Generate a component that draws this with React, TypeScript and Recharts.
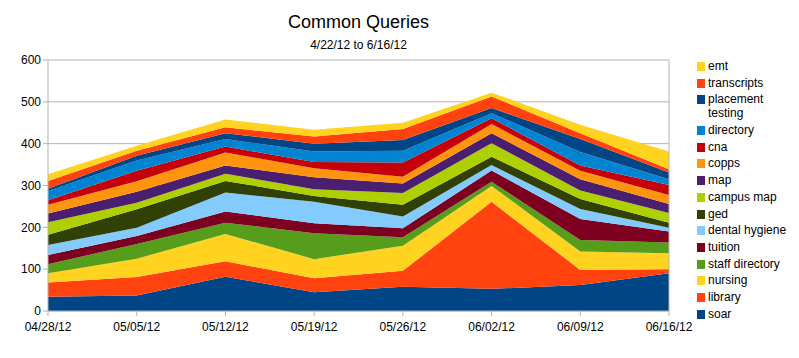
import { AreaChart, Area, XAxis, YAxis, CartesianGrid, ReferenceLine } from 'recharts';

const dates = ['04/28/12', '05/05/12', '05/12/12', '05/19/12', '05/26/12', '06/02/12', '06/09/12', '06/16/12'];

// bottom layer first
const soar = [34, 37, 82, 45, 58, 53, 62, 90];
const library = [34, 44, 37, 33, 38, 208, 36, 10];
const nursing = [22, 44, 65, 46, 60, 38, 44, 38];
const staffDirectory = [22, 35, 27, 62, 20, 10, 28, 26];
const tuition = [22, 19, 27, 24, 22, 27, 50, 26];
const dentalHygiene = [24, 20, 45, 51, 28, 13, 24, 9];
const ged = [24, 44, 28, 14, 28, 20, 24, 12];
const campusMap = [30, 16, 17, 16, 28, 32, 20, 23];
const map = [21, 26, 20, 29, 23, 24, 27, 22];
const copps = [21, 25, 31, 21, 16, 22, 20, 21];
const cna = [11, 25, 14, 15, 34, 14, 13, 24];
const directory = [22, 25, 18, 25, 28, 12, 32, 14];
const placementTesting = [5, 11, 14, 19, 26, 12, 31, 16];
const transcripts = [19, 12, 14, 17, 26, 28, 14, 8];
const emt = [16, 12, 19, 16, 15, 9, 20, 42];

const series = [
  { key: 'soar', name: 'soar', values: soar, color: '#004586' },
  { key: 'library', name: 'library', values: library, color: '#ff420e' },
  { key: 'nursing', name: 'nursing', values: nursing, color: '#ffd320' },
  { key: 'staffDirectory', name: 'staff directory', values: staffDirectory, color: '#579d1c' },
  { key: 'tuition', name: 'tuition', values: tuition, color: '#7e0021' },
  { key: 'dentalHygiene', name: 'dental hygiene', values: dentalHygiene, color: '#83caff' },
  { key: 'ged', name: 'ged', values: ged, color: '#314004' },
  { key: 'campusMap', name: 'campus map', values: campusMap, color: '#aecf00' },
  { key: 'map', name: 'map', values: map, color: '#4b1f6f' },
  { key: 'copps', name: 'copps', values: copps, color: '#ff950e' },
  { key: 'cna', name: 'cna', values: cna, color: '#c5000b' },
  { key: 'directory', name: 'directory', values: directory, color: '#0084d1' },
  { key: 'placementTesting', name: 'placement testing', values: placementTesting, color: '#004586' },
  { key: 'transcripts', name: 'transcripts', values: transcripts, color: '#ff420e' },
  { key: 'emt', name: 'emt', values: emt, color: '#ffd320' },
];

const data = dates.map((d, i) => {
  const row: Record<string, string | number> = { date: d };
  series.forEach((s) => {
    row[s.key] = s.values[i];
  });
  return row;
});

const font = '"Liberation Sans", Arial, sans-serif';

export default function App() {
  return (
    <div style={{ position: 'fixed', left: 0, top: 0, width: 799, height: 358, background: '#fff', fontFamily: font }}>
      <div style={{ position: 'absolute', left: 0, width: 717, top: 12, textAlign: 'center', fontSize: 18 }}>
        Common Queries
      </div>
      <div style={{ position: 'absolute', left: 0, width: 717, top: 38, textAlign: 'center', fontSize: 12 }}>
        4/22/12 to 6/16/12
      </div>
      <AreaChart width={799} height={358} data={data} margin={{ top: 60, right: 130, bottom: 17, left: 8 }}>
        <CartesianGrid vertical={false} stroke="#b3b3b3" />
        <XAxis
          dataKey="date"
          tick={{ fontSize: 12, fill: '#000', fontFamily: font, dy: 4 }}
          tickLine={{ stroke: '#b3b3b3' }}
          axisLine={{ stroke: '#b3b3b3' }}
          tickSize={5}
          height={30}
          interval={0}
        />
        <YAxis
          domain={[0, 600]}
          ticks={[0, 100, 200, 300, 400, 500, 600]}
          tick={{ fontSize: 12, fill: '#000', fontFamily: font }}
          tickLine={{ stroke: '#b3b3b3' }}
          axisLine={{ stroke: '#b3b3b3' }}
          tickSize={5}
          width={40}
        />
        <ReferenceLine x="06/16/12" stroke="#b3b3b3" />
        {series.map((s) => (
          <Area
            key={s.key}
            type="linear"
            dataKey={s.key}
            name={s.name}
            stackId="1"
            stroke="none"
            fill={s.color}
            fillOpacity={1}
            isAnimationActive={false}
          />
        ))}
      </AreaChart>
      <div style={{ position: 'absolute', left: 697, top: 59, width: 100, fontSize: 12 }}>
        {[...series].reverse().map((s) => (
          <div key={s.key} style={{ display: 'flex', alignItems: 'flex-start', marginBottom: 2.7, lineHeight: '14px' }}>
            <span style={{ display: 'inline-block', width: 8, height: 9, background: s.color, marginTop: 3, marginRight: 3, flexShrink: 0 }} />
            <span style={{ width: 86 }}>{s.name}</span>
          </div>
        ))}
      </div>
    </div>
  );
}
